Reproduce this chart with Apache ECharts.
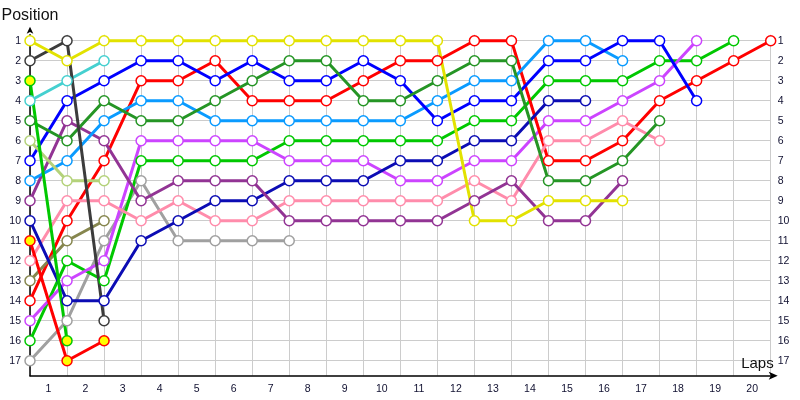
<!DOCTYPE html>
<html>
<head>
<meta charset="utf-8">
<script src="https://cdn.jsdelivr.net/npm/echarts@6/dist/echarts.min.js"></script>
<style>
html, body { margin: 0; padding: 0; background: #fff; }
#main { width: 800px; height: 400px; }
</style>
</head>
<body>
<div id="main"></div>
<script>
// tick labels
var lapLabels = ['1', '2', '3', '4', '5', '6', '7', '8', '9', '10',
    '11', '12', '13', '14', '15', '16', '17', '18', '19', '20'];
var positions = [1, 2, 3, 4, 5, 6, 7, 8, 9, 10, 11, 12, 13, 14, 15, 16, 17];

// position of each car per lap, index = lap (0 = grid)
var yellow = [1, 2, 1, 1, 1, 1, 1, 1, 1, 1, 1, 1, 10, 10, 9, 9, 9];
var darkGray = [2, 1, 15];
var greenOut = [3, 16];
var cyan = [4, 3, 2];
var darkGreen = [5, 6, 4, 5, 5, 4, 3, 2, 2, 4, 4, 3, 2, 2, 8, 8, 7, 5];
var lightOlive = [6, 8, 8];
var blue = [7, 4, 3, 2, 2, 3, 2, 3, 3, 2, 3, 5, 4, 4, 2, 2, 1, 1, 4];
var lightBlue = [8, 7, 5, 4, 4, 5, 5, 5, 5, 5, 5, 4, 3, 3, 1, 1, 2];
var purple = [9, 5, 6, 9, 8, 8, 8, 10, 10, 10, 10, 10, 9, 8, 10, 10, 8];
var darkBlue = [10, 14, 14, 11, 10, 9, 9, 8, 8, 8, 7, 7, 6, 6, 4, 4];
var redOut = [11, 17, 16];
var pink = [12, 9, 9, 10, 9, 10, 10, 9, 9, 9, 9, 9, 8, 9, 6, 6, 5, 6];
var olive = [13, 11, 10];
var red = [14, 10, 7, 3, 3, 2, 4, 4, 4, 3, 2, 2, 1, 1, 7, 7, 6, 4, 3, 2, 1];
var violet = [15, 13, 12, 6, 6, 6, 6, 7, 7, 7, 8, 8, 7, 7, 5, 5, 4, 3, 1];
var green = [16, 12, 13, 7, 7, 7, 7, 6, 6, 6, 6, 6, 5, 5, 3, 3, 3, 2, 2, 1];
var gray = [17, 15, 11, 8, 11, 11, 11, 11];

// cars that dropped out (markers filled yellow)
var retired = ['greenOut', 'redOut'];

// drawn from the back to the front
var cars = [
    { name: 'gray', data: gray, color: '#a0a0a0' },
    { name: 'green', data: green, color: '#00c800' },
    { name: 'violet', data: violet, color: '#cc44ff' },
    { name: 'red', data: red, color: '#ff0000' },
    { name: 'olive', data: olive, color: '#86864e' },
    { name: 'pink', data: pink, color: '#ff8cab' },
    { name: 'redOut', data: redOut, color: '#ff0000' },
    { name: 'darkBlue', data: darkBlue, color: '#0c0cb4' },
    { name: 'purple', data: purple, color: '#923494' },
    { name: 'lightBlue', data: lightBlue, color: '#0a9bff' },
    { name: 'blue', data: blue, color: '#0000ff' },
    { name: 'lightOlive', data: lightOlive, color: '#b4d27a' },
    { name: 'darkGreen', data: darkGreen, color: '#259525' },
    { name: 'cyan', data: cyan, color: '#45d0d0' },
    { name: 'greenOut', data: greenOut, color: '#00c800' },
    { name: 'darkGray', data: darkGray, color: '#3c3c3c' },
    { name: 'yellow', data: yellow, color: '#e2e200' }
];

var labelFont = {
    fontFamily: 'Liberation Sans',
    fontSize: 10.5,
    color: '#101030'
};

var myChart = echarts.init(document.getElementById('main'));

myChart.setOption({
    animation: false,
    grid: {
        left: 30,
        right: 29.3,
        top: 34.7,
        bottom: 24.3,
        outerBoundsMode: 'none'
    },
    xAxis: {
        type: 'value',
        min: 0,
        max: 20,
        interval: 1,
        name: 'Laps',
        nameLocation: 'end',
        nameGap: 3,
        nameMoveOverlap: false,
        nameTextStyle: {
            fontFamily: 'Liberation Sans',
            fontSize: 15,
            color: '#111',
            align: 'right',
            verticalAlign: 'bottom',
            padding: [0, 0, 4, 0]
        },
        axisLine: {
            lineStyle: { color: '#000', width: 1.5 },
            symbol: ['none', 'arrow'],
            symbolSize: [6, 9],
            symbolOffset: [0, 7]
        },
        axisTick: { show: false },
        axisLabel: Object.assign({
            margin: 8,
            padding: [0, 0, 0, 37],
            formatter: function (v) {
                return lapLabels[v] || '';
            }
        }, labelFont),
        splitLine: { lineStyle: { color: '#cccccc' } }
    },
    yAxis: [{
        type: 'value',
        inverse: true,
        min: 0.7,
        max: 17.75,
        position: 'left',
        name: 'Position',
        nameLocation: 'start',
        nameGap: 11,
        nameMoveOverlap: false,
        nameTextStyle: {
            fontFamily: 'Liberation Sans',
            fontSize: 16,
            color: '#111',
            align: 'center',
            verticalAlign: 'bottom'
        },
        axisLine: {
            show: true,
            lineStyle: { color: '#000', width: 1.5 },
            symbol: ['none', 'arrow'],
            symbolSize: [5, 7],
            symbolOffset: [0, 8]
        },
        axisTick: { show: false, customValues: positions },
        axisLabel: Object.assign({ margin: 9, customValues: positions }, labelFont),
        splitLine: { lineStyle: { color: '#cccccc' } }
    }, {
        type: 'value',
        inverse: true,
        min: 0.7,
        max: 17.75,
        position: 'right',
        axisLine: { show: false },
        axisTick: { show: false, customValues: positions },
        axisLabel: Object.assign({ margin: 7, customValues: positions }, labelFont),
        splitLine: { show: false }
    }],
    series: cars.map(function (car) {
        var out = retired.indexOf(car.name) >= 0;
        return {
            name: car.name,
            type: 'line',
            yAxisIndex: 0,
            symbol: 'circle',
            symbolSize: 10,
            data: car.data.map(function (p, lap) { return [lap, p]; }),
            lineStyle: { color: car.color, width: 3 },
            itemStyle: {
                color: out ? '#ffff00' : '#ffffff',
                borderColor: car.color,
                borderWidth: 1.5
            },
            emphasis: { disabled: true }
        };
    })
});
</script>
</body>
</html>
